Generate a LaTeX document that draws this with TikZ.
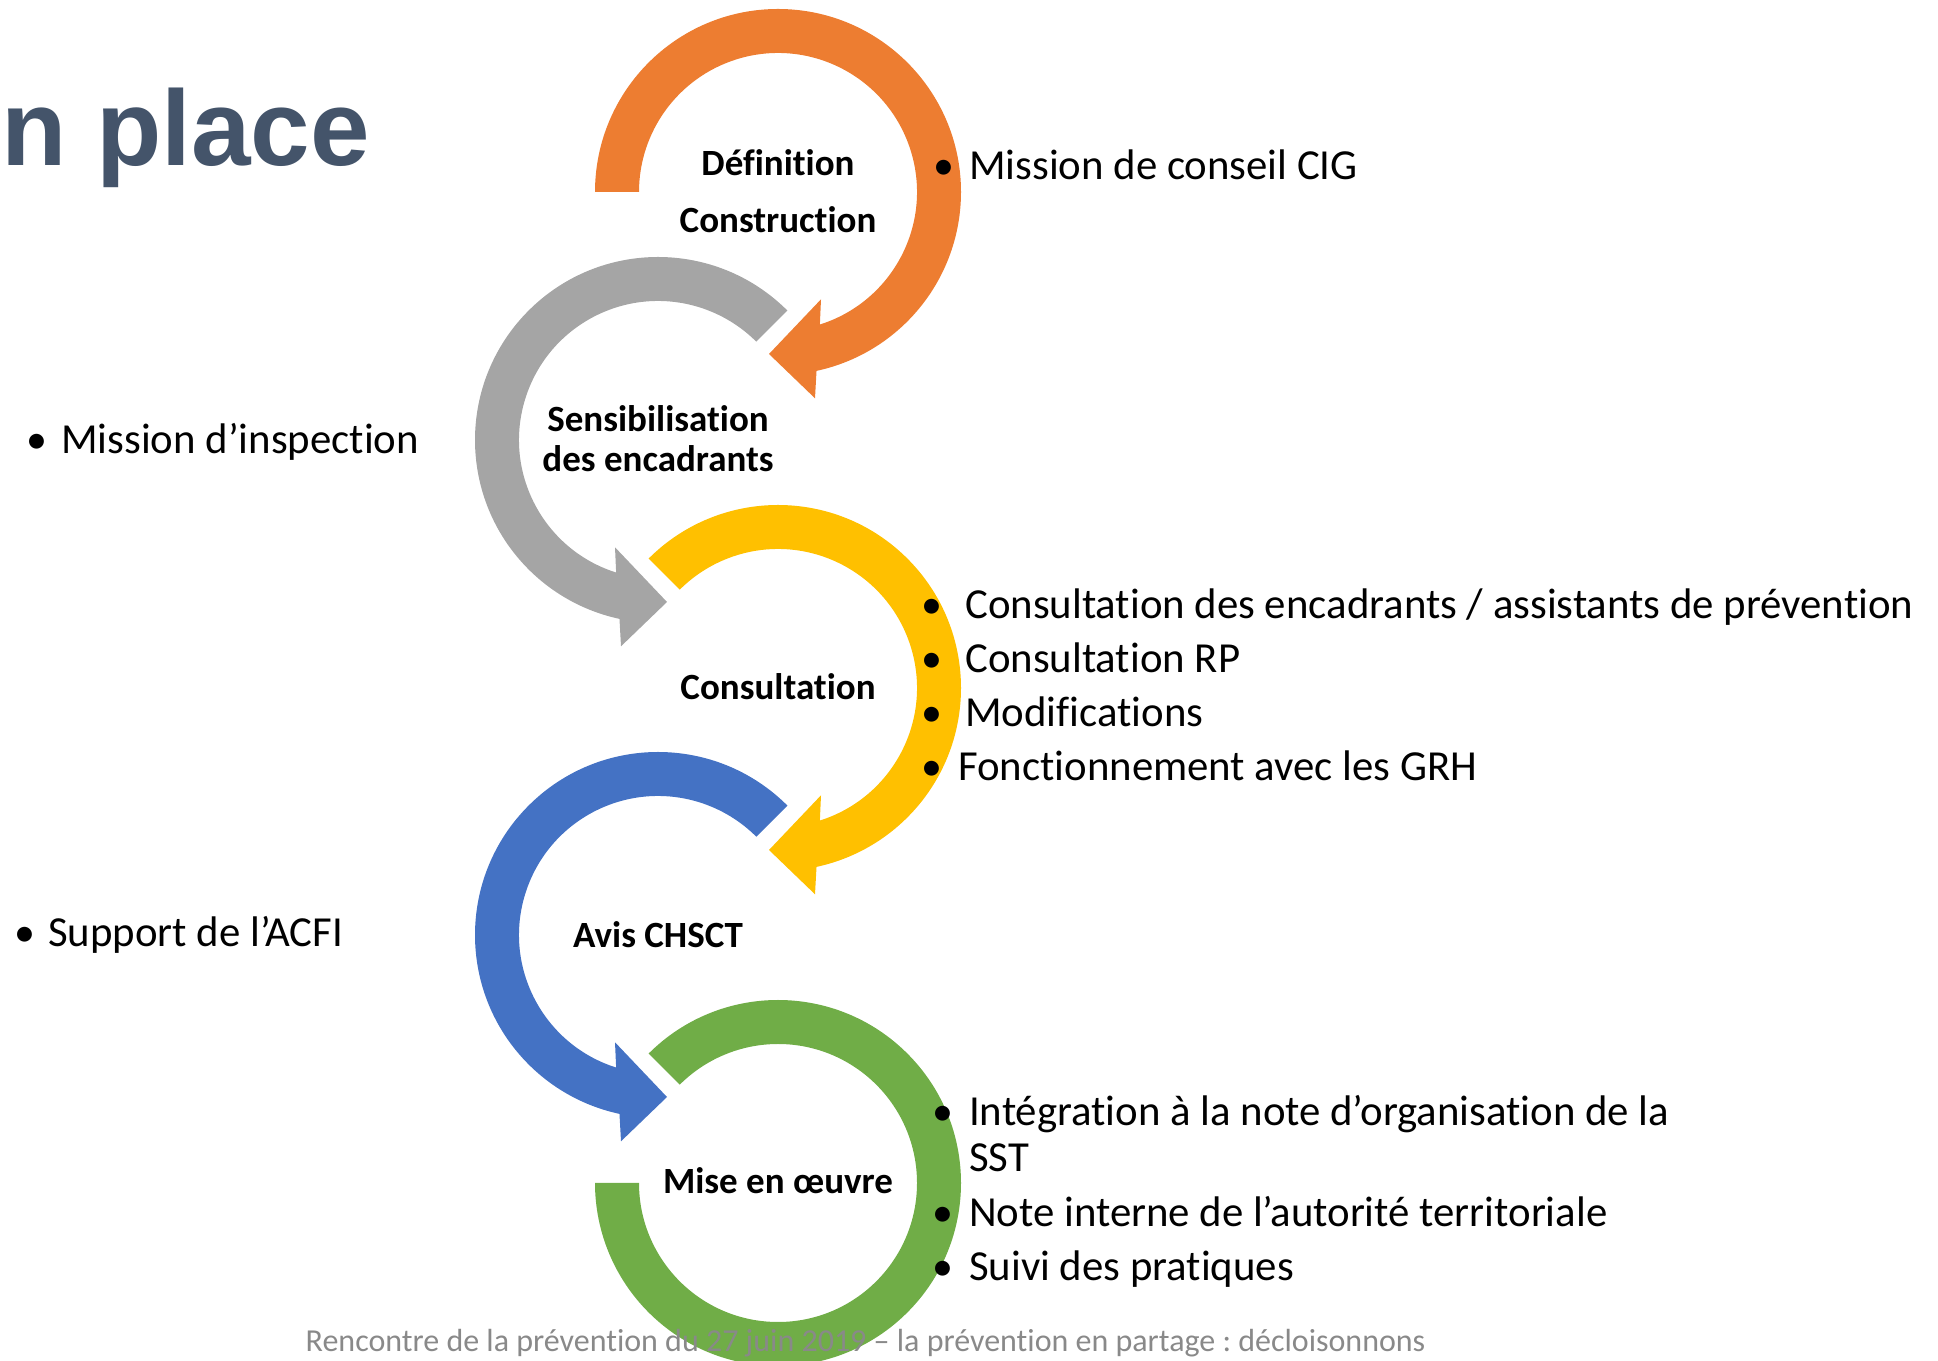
\documentclass[tikz,border=0pt]{standalone}
\usepackage{fontspec}
\setmainfont{Carlito}[RawFeature=-liga]
\newfontfamily\titlefont{Liberation Sans}
\definecolor{corange}{HTML}{ED7D31}
\definecolor{cgray}{HTML}{A5A5A5}
\definecolor{cyellow}{HTML}{FFC000}
\definecolor{cblue}{HTML}{4472C4}
\definecolor{cgreen}{HTML}{70AD47}
\definecolor{ctitle}{HTML}{44546A}
\definecolor{cfoot}{HTML}{898989}
\frenchspacing
\newcommand\cwarrow[2]{%
  \fill[#2] (#1:183) arc[start angle=#1,end angle=-77.85,radius=183]
    -- (37,-206.3) -- (-9,-162) -- (43,-107.3) -- (-72.47:139)
    arc[start angle=-72.47,end angle=#1,radius=139] -- cycle;}
\begin{document}
\begin{tikzpicture}[x=1pt,y=1pt,
  body/.style={inner sep=0pt,font=\fontsize{42.8}{50}\selectfont,anchor=base west},
  bul/.style={inner sep=0pt,font=\fontsize{42}{50}\selectfont,anchor=base},
  lbl/.style={inner sep=0pt,font=\fontsize{37}{44}\selectfont\bfseries,anchor=base}]
\useasboundingbox (0,0) rectangle (1938,1360);
\clip (0,0) rectangle (1938,1360);
% circular arrows
\begin{scope}[shift={(778,1168)}]\cwarrow{180}{corange}\end{scope}
\begin{scope}[shift={(658,920)},xscale=-1]\cwarrow{135}{cgray}\end{scope}
\begin{scope}[shift={(778,672)}]\cwarrow{135}{cyellow}\end{scope}
\begin{scope}[shift={(658,425)},xscale=-1]\cwarrow{135}{cblue}\end{scope}
\begin{scope}[shift={(778,177)}]
  \fill[cgreen] (135:183) arc[start angle=135,end angle=-180,radius=183]
    -- (180:139) arc[start angle=-180,end angle=135,radius=139] -- cycle;
\end{scope}
% title
\node[inner sep=0pt,anchor=base west,text=ctitle,font={\titlefont\bfseries\fontsize{107}{120}\selectfont}] (title) at (1,1194) {n place};
% labels in circles
\node[lbl] (l1) at (778,1184.3) {Définition};
\node[lbl] (l2) at (778,1127.7) {Construction};
\node[lbl] (l3) at (658,928.3) {Sensibilisation};
\node[lbl] (l4) at (658,888.3) {des encadrants};
\node[lbl] (l5) at (778,660.7) {Consultation};
\node[lbl] (l6) at (658,412.7) {Avis CHSCT};
\node[lbl] (l7) at (778,166) {Mise en œuvre};
% bullet texts
\node[bul] (b1) at (943.5,1180) {•};
\node[body] (t1) at (969,1180) {Mission de conseil CIG};
\node[bul] (b2) at (36.7,906) {•};
\node[body] (t2) at (61,906) {Mission d’inspection};
\node[bul] (b3) at (931.7,741.7) {•};
\node[body] (t3) at (965,741.7) {Consultation des encadrants / assistants de prévention};
\node[bul] (b4) at (931.7,687.7) {•};
\node[body] (t4) at (965,687.7) {Consultation RP};
\node[bul] (b5) at (931.7,633) {•};
\node[body] (t5) at (965,633) {Modifications};
\node[bul] (b6) at (931.7,579) {•};
\node[body] (t6) at (958,579) {Fonctionnement avec les GRH};
\node[bul] (b7) at (25,413.3) {•};
\node[body] (t7) at (48,413.3) {Support de l’ACFI};
\node[bul] (b8) at (943.3,234.5) {•};
\node[body] (t8) at (969,234.5) {Intégration à la note d’organisation de la};
\node[body] (t8b) at (969,188) {SST};
\node[bul] (b9) at (943.3,133) {•};
\node[body] (t9) at (969,133) {Note interne de l’autorité territoriale};
\node[bul] (b10) at (943.3,79.5) {•};
\node[body] (t10) at (969,79.5) {Suivi des pratiques};
% footer
\node[inner sep=0pt,anchor=base west,text=cfoot,font=\fontsize{32}{38}\selectfont] (foot) at (305.5,8.3) {Rencontre de la prévention du 27 juin 2019 – la prévention en partage : décloisonnons};
\end{tikzpicture}
\end{document}
